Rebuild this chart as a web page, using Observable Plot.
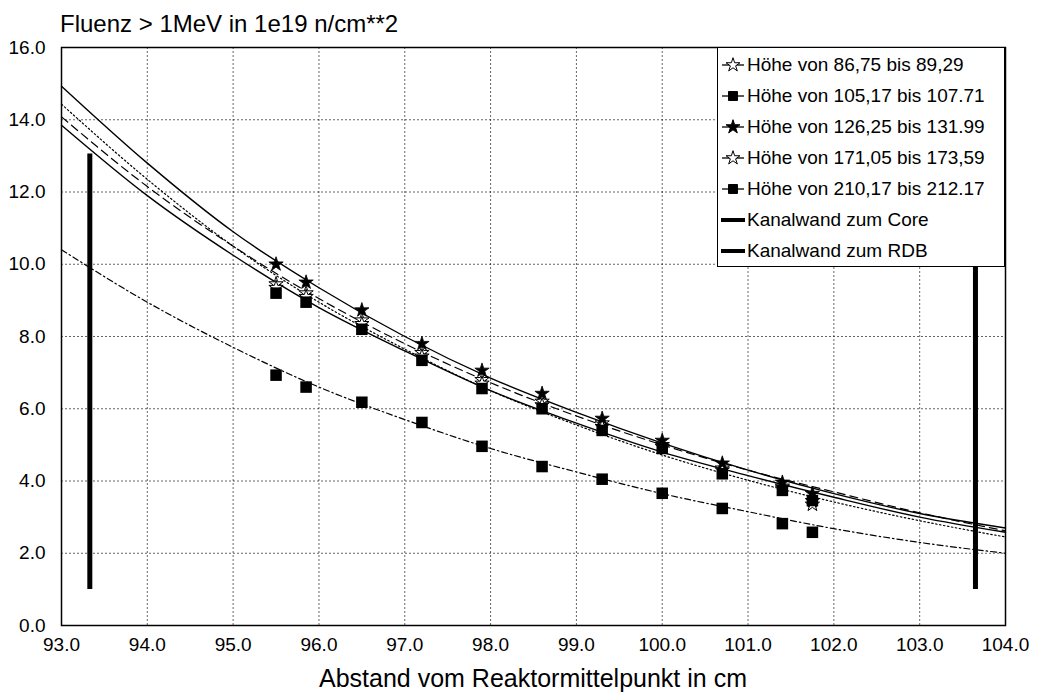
<!DOCTYPE html>
<html><head><meta charset="utf-8">
<script src="https://cdn.jsdelivr.net/npm/d3@7"></script>
<script src="https://cdn.jsdelivr.net/npm/@observablehq/plot@0.6"></script>
<style>
body{margin:0;background:#fff;font-family:"Liberation Sans",Arial,sans-serif;overflow:hidden;color:#000}
#title{position:relative;height:40px;width:1037px}
#title span{position:absolute;left:60px;top:11px;font-size:24px;line-height:25px;white-space:nowrap}
#wrap{position:relative;height:615px;width:1037px}
#wrap svg.chart{display:block}
#legend{position:absolute;left:717px;top:7px;width:288px;height:220px;border:1.5px solid #000;background:#fff;padding-top:1px;box-sizing:border-box}
.row{height:31px;display:flex;align-items:center;font-size:19px;white-space:nowrap}
.row svg{width:24px;height:20px;margin-left:3px;margin-right:2px;flex:none}
#caption{position:relative;height:40px;width:1037px}
#caption span{position:absolute;left:61px;width:944px;text-align:center;top:11px;font-size:25px;line-height:25px;white-space:nowrap}
</style></head>
<body>
<div id="title"><span>Fluenz &gt; 1MeV in 1e19 n/cm**2</span></div>
<div id="wrap"><div id="legend"></div></div>
<div id="caption"><span>Abstand vom Reaktormittelpunkt in cm</span></div>
<script>
// ---- data ----
const xTicks = [93,94,95,96,97,98,99,100,101,102,103,104];
const yTicks = [0,2,4,6,8,10,12,14,16];

const measX  = [95.5, 95.85, 96.5, 97.2, 97.9, 98.6, 99.3, 100.0, 100.7, 101.4, 101.75];
const hoehe1 = [9.45, 9.2, 8.45, 7.55, 6.8, 6.2, 5.6, 5.0, 4.35, 3.85, 3.45];
const hoehe2 = [9.2, 8.95, 8.2, 7.34, 6.56, 6.0, 5.4, 4.9, 4.2, 3.74, 3.46];
const hoehe3 = [10.0, 9.5, 8.73, 7.8, 7.06, 6.42, 5.73, 5.12, 4.49, 3.96, 3.65];
const hoehe4 = [9.35, 9.1, 8.35, 7.45, 6.7, 6.1, 5.5, 4.95, 4.3, 3.8, 3.35];
const hoehe5 = [6.93, 6.6, 6.18, 5.62, 4.96, 4.4, 4.05, 3.66, 3.24, 2.82, 2.58];

const curveX       = [93, 94, 95, 96, 97, 98, 99, 100, 101, 102, 103, 104];
const curveTop     = [14.93, 12.8, 10.9, 9.35, 8.0, 6.85, 5.9, 5.05, 4.3, 3.65, 3.1, 2.7];
const curveDashed  = [14.08, 12.15, 10.5, 9.05, 7.8, 6.72, 5.8, 5.0, 4.3, 3.7, 3.12, 2.62];
const curveDotted  = [14.43, 12.35, 10.5, 8.95, 7.65, 6.5, 5.55, 4.72, 4.02, 3.42, 2.9, 2.45];
const curveLower   = [13.85, 11.9, 10.25, 8.8, 7.6, 6.5, 5.6, 4.8, 4.15, 3.55, 3.0, 2.58];
const curveDashDot = [10.4, 8.95, 7.7, 6.6, 5.7, 4.9, 4.25, 3.65, 3.15, 2.68, 2.3, 2.0];

const wallNames = ["Kanalwand zum Core", "Kanalwand zum RDB"];
const wallX  = [93.33, 103.65];
const wallY1 = [1.0, 1.0];
const wallY2 = [13.05, 10.0];

const legendLabels = ["Höhe von 86,75 bis 89,29","Höhe von 105,17 bis 107.71","Höhe von 126,25 bis 131.99","Höhe von 171,05 bis 173,59","Höhe von 210,17 bis 212.17","Kanalwand zum Core","Kanalwand zum RDB"];

// ---- tables ----
const pts = (arr) => measX.map((x,i)=>({x, y: arr[i]}));
const crv = (arr) => curveX.map((x,i)=>({x, y: arr[i]}));
const walls = wallX.map((x,i)=>({name: wallNames[i], x, y1: wallY1[i], y2: wallY2[i]}));
const fmt = d3.format(".1f");
const lineOpts = {x:"x", y:"y", stroke:"#000", strokeWidth:1.4, curve:"monotone-x"};

const chart = Plot.plot({
  width: 1037, height: 615,
  marginTop: 7, marginLeft: 61, marginRight: 32, marginBottom: 30,
  x: {domain: [93, 104], label: null},
  y: {domain: [0, 16], label: null},
  style: {fontFamily: "Liberation Sans, Arial, sans-serif", fontSize: "19px", color: "#000", background: "#fff", overflow: "visible"},
  marks: [
    Plot.gridX(xTicks, {stroke: "#000", strokeOpacity: 0.6, strokeDasharray: "2,2"}),
    Plot.gridY(yTicks, {stroke: "#000", strokeOpacity: 0.6, strokeDasharray: "2,2"}),
    Plot.axisX(xTicks, {tickSize: 0, tickPadding: 12, tickFormat: fmt, label: null, fontSize: 19}),
    Plot.axisY(yTicks, {tickSize: 0, tickPadding: 16, tickFormat: fmt, label: null, fontSize: 19}),
    Plot.line(crv(curveTop), lineOpts),
    Plot.line(crv(curveLower), lineOpts),
    Plot.line(crv(curveDashed), {...lineOpts, strokeDasharray: "8,5", strokeWidth: 1.2}),
    Plot.line(crv(curveDotted), {...lineOpts, strokeDasharray: "1.5,2.5", strokeWidth: 1.2}),
    Plot.line(crv(curveDashDot), {...lineOpts, strokeDasharray: "6,3,1.5,3", strokeWidth: 1.2}),
    Plot.ruleX(walls, {x: "x", y1: "y1", y2: "y2", stroke: "#000", strokeWidth: 5}),
    Plot.dot(pts(hoehe1), {x:"x", y:"y", symbol: "star", r: 4.5, fill: "#fff", stroke: "#000", strokeWidth: 1}),
    Plot.dot(pts(hoehe4), {x:"x", y:"y", symbol: "star", r: 4.5, fill: "#fff", stroke: "#000", strokeWidth: 1}),
    Plot.dot(pts(hoehe2), {x:"x", y:"y", symbol: "square", r: 6.5, fill: "#000"}),
    Plot.dot(pts(hoehe5), {x:"x", y:"y", symbol: "square", r: 6.5, fill: "#000"}),
    Plot.dot(pts(hoehe3), {x:"x", y:"y", symbol: "star", r: 4.5, fill: "#000", stroke: "#000", strokeWidth: 0.8}),
    Plot.frame({stroke: "#000", strokeWidth: 1.5})
  ]
});
chart.classList.add("chart");
document.getElementById("wrap").prepend(chart);

// ---- legend ----
const legend = document.getElementById("legend");
const sym = (type, size) => d3.symbol(type, size)();
const markers = [
  {type: d3.symbolStar, size: 60, fill: "#fff"},
  {type: d3.symbolSquare, size: 80, fill: "#000"},
  {type: d3.symbolStar, size: 60, fill: "#000"},
  {type: d3.symbolStar, size: 60, fill: "#fff"},
  {type: d3.symbolSquare, size: 80, fill: "#000"},
  null, null
];
legendLabels.forEach((lab, i) => {
  const row = document.createElement("div");
  row.className = "row";
  const m = markers[i];
  let svg = `<svg viewBox="0 0 24 20">`;
  if (m) {
    svg += `<line x1="1" x2="23" y1="10" y2="10" stroke="#000" stroke-width="1.3"/>`;
    svg += `<path transform="translate(12,10)" d="${sym(m.type, m.size)}" fill="${m.fill}" stroke="#000" stroke-width="1"/>`;
  } else {
    svg += `<line x1="0" x2="24" y1="10" y2="10" stroke="#000" stroke-width="4"/>`;
  }
  svg += `</svg>`;
  row.innerHTML = svg + `<span>${lab}</span>`;
  legend.appendChild(row);
});
</script>
</body></html>
